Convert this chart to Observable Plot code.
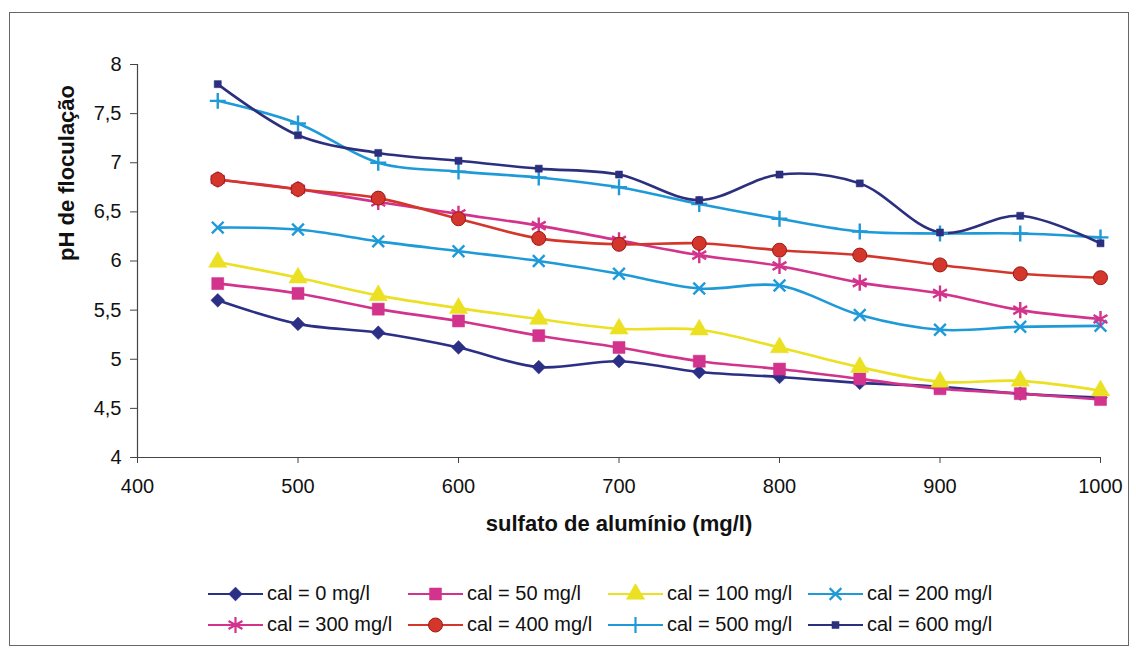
<!DOCTYPE html>
<html>
<head>
<meta charset="utf-8">
<script src="https://cdn.jsdelivr.net/npm/d3@7"></script>
<script src="https://cdn.jsdelivr.net/npm/@observablehq/plot@0.6"></script>
<style>
  html, body { margin: 0; padding: 0; background: #fff; }
  body { width: 1136px; height: 651px; position: relative; overflow: hidden; font-family: "Liberation Sans", Arial, sans-serif; }
  #frame { position: absolute; left: 9px; top: 12px; width: 1118px; height: 632px; border: 1px solid #666; pointer-events: none; }
  #chart { position: absolute; left: 0; top: 0; }
  #legend { position: absolute; left: 207px; top: 578px; width: 860px; font-size: 20px; color: #111; }
  .row { display: flex; height: 31px; align-items: center; }
  .item { width: 200px; display: flex; align-items: center; white-space: nowrap; }
  .item svg { flex: none; }
  .item span { margin-left: 3px; }
</style>
</head>
<body>
<div id="chart"></div>
<div id="legend"></div>
<div id="frame"></div>
<script>
// ---- data ----
const doses = [450, 500, 550, 600, 650, 700, 750, 800, 850, 900, 950, 1000];
const cal0   = [5.60, 5.36, 5.27, 5.12, 4.92, 4.98, 4.87, 4.82, 4.76, 4.72, 4.65, 4.61];
const cal50  = [5.77, 5.67, 5.51, 5.39, 5.24, 5.12, 4.98, 4.90, 4.80, 4.70, 4.65, 4.59];
const cal100 = [5.99, 5.83, 5.65, 5.52, 5.41, 5.31, 5.30, 5.12, 4.92, 4.77, 4.78, 4.68];
const cal200 = [6.34, 6.32, 6.20, 6.10, 6.00, 5.87, 5.72, 5.75, 5.45, 5.30, 5.33, 5.34];
const cal300 = [6.83, 6.73, 6.60, 6.48, 6.36, 6.21, 6.06, 5.95, 5.78, 5.67, 5.50, 5.41];
const cal400 = [6.83, 6.73, 6.64, 6.43, 6.23, 6.17, 6.18, 6.11, 6.06, 5.96, 5.87, 5.83];
const cal500 = [7.63, 7.40, 7.00, 6.91, 6.85, 6.75, 6.58, 6.43, 6.30, 6.28, 6.28, 6.24];
const cal600 = [7.80, 7.28, 7.10, 7.02, 6.94, 6.88, 6.62, 6.88, 6.79, 6.29, 6.46, 6.18];

const seriesNames = ["cal = 0 mg/l", "cal = 50 mg/l", "cal = 100 mg/l", "cal = 200 mg/l",
                     "cal = 300 mg/l", "cal = 400 mg/l", "cal = 500 mg/l", "cal = 600 mg/l"];
const seriesValues = [cal0, cal50, cal100, cal200, cal300, cal400, cal500, cal600];
const xTicks = [400, 500, 600, 700, 800, 900, 1000];
const yTicks = [4, 4.5, 5, 5.5, 6, 6.5, 7, 7.5, 8];
const xTitle = "sulfato de alumínio (mg/l)";
const yTitle = "pH de floculação";

// ---- styles ----
const styles = [
  {color: "#2c2f86", symbol: "diamond2", r: 6.2, filled: true},
  {color: "#d2338c", symbol: "square",   r: 6.8, filled: true},
  {color: "#ebe022", symbol: "triangle", r: 6.8, filled: true},
  {color: "#1f9ad8", symbol: "times",    r: 5.4, filled: false},
  {color: "#d2338c", symbol: "asterisk", r: 7.6, filled: false},
  {color: "#d5362c", symbol: "circle",   r: 7.0, filled: true, stroke: "#9a1a14"},
  {color: "#1f9ad8", symbol: "plus",     r: 5.2, filled: false},
  {color: "#2c2f7e", symbol: "square",   r: 4.0, filled: true}
];

const table = seriesNames.map((name, s) =>
  doses.map((d, i) => ({series: name, dose: d, ph: seriesValues[s][i]})));

const marks = [
  Plot.ruleX([400], {stroke: "#444", strokeWidth: 1.2}),
  Plot.ruleY([4], {stroke: "#444", strokeWidth: 1.2}),
  Plot.axisX({ticks: xTicks, tickSize: 6, tickPadding: 15, label: null, fontSize: 20, tickFormat: d => String(d), stroke: "#444"}),
  Plot.axisY({ticks: yTicks, tickSize: 7, tickPadding: 9, label: null, fontSize: 20, tickFormat: d => String(d).replace(".", ","), stroke: "#444"})
];
table.forEach((rows, s) => {
  const st = styles[s];
  marks.push(Plot.line(rows, {x: "dose", y: "ph", stroke: st.color, strokeWidth: 2.6, curve: "catmull-rom"}));
});
table.forEach((rows, s) => {
  const st = styles[s];
  marks.push(Plot.dot(rows, st.filled
    ? {x: "dose", y: "ph", symbol: () => st.symbol, r: st.r, fill: st.color, stroke: st.stroke || st.color, strokeWidth: st.stroke ? 1 : 0.5}
    : {x: "dose", y: "ph", symbol: () => st.symbol, r: st.r, fill: "none", stroke: st.color, strokeWidth: 2.4}));
});
marks.push(Plot.text([xTitle], {text: d => d, frameAnchor: "bottom", dy: 73, fontWeight: "bold", fontSize: 22, fill: "#111"}));
marks.push(Plot.text([yTitle], {text: d => d, frameAnchor: "left", dx: -71, rotate: -90, fontWeight: "bold", fontSize: 22, fill: "#111"}));

const chart = Plot.plot({
  width: 1136, height: 560,
  marginLeft: 137, marginRight: 36, marginTop: 64, marginBottom: 103,
  style: {fontFamily: "'Liberation Sans', Arial, sans-serif", fontSize: "20px", color: "#111", background: "transparent", overflow: "visible"},
  x: {domain: [400, 1000]},
  y: {domain: [4, 8]},
  symbol: {type: "identity"},
  marks
});
document.getElementById("chart").appendChild(chart);

// ---- legend ----
const legend = d3.select("#legend");
const rowsIdx = [[0,1,2,3],[4,5,6,7]];
const symMap = {diamond2: d3.symbolDiamond2, square: d3.symbolSquare, triangle: d3.symbolTriangle,
  times: d3.symbolTimes, asterisk: d3.symbolAsterisk, circle: d3.symbolCircle, plus: d3.symbolPlus};
rowsIdx.forEach(idx => {
  const row = legend.append("div").attr("class", "row");
  idx.forEach(s => {
    const st = styles[s];
    const item = row.append("div").attr("class", "item");
    const svg = item.append("svg").attr("width", 57).attr("height", 20);
    svg.append("line").attr("x1", 1).attr("x2", 56).attr("y1", 10).attr("y2", 10)
      .attr("stroke", st.color).attr("stroke-width", 2);
    const path = d3.symbol(symMap[st.symbol], Math.PI * st.r * st.r)();
    const p = svg.append("path").attr("d", path).attr("transform", "translate(28.5,10)");
    if (st.filled) p.attr("fill", st.color).attr("stroke", st.stroke || st.color).attr("stroke-width", st.stroke ? 1 : 0.5);
    else p.attr("fill", "none").attr("stroke", st.color).attr("stroke-width", 2.2);
    item.append("span").text(seriesNames[s]);
  });
});
</script>
</body>
</html>
